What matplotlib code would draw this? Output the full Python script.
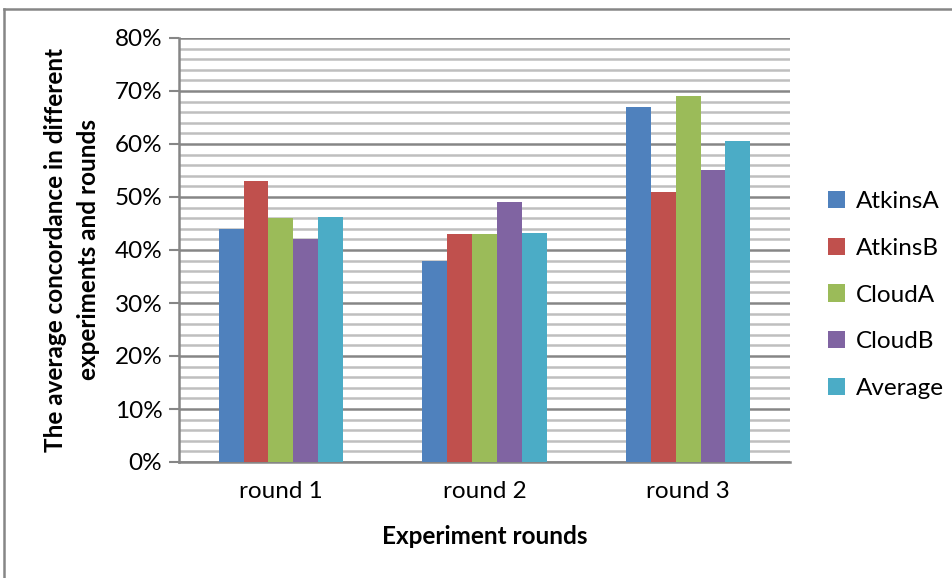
import matplotlib
matplotlib.use("Agg")
import matplotlib.pyplot as plt
from matplotlib.lines import Line2D
from matplotlib.patches import Patch
from matplotlib.ticker import MultipleLocator, FuncFormatter
import numpy as np

plt.rcParams['font.family'] = ['Lato', 'DejaVu Sans']

rounds = ["round 1", "round 2", "round 3"]
series_names = ["AtkinsA", "AtkinsB", "CloudA", "CloudB", "Average"]
atkins_a = [44, 38, 67]
atkins_b = [53, 43, 51]
cloud_a = [46, 43, 69]
cloud_b = [42, 49, 55]
average = [46.25, 43.25, 60.5]
colors = ["#4F81BD", "#C0504D", "#9BBB59", "#8064A2", "#4BACC6"]
ylabel_lines = ["The average concordance in different", "experiments and rounds"]

FS = 17.5
W, H = 952, 578
fig = plt.figure(figsize=(W / 100, H / 100), dpi=100)
ax = fig.add_axes([179 / W, 1 - 462 / H, (790 - 179) / W, (462 - 38) / H])

x = np.arange(len(rounds))
bw = 0.122
all_series = [atkins_a, atkins_b, cloud_a, cloud_b, average]
for i, (vals, c, name) in enumerate(zip(all_series, colors, series_names)):
    ax.bar(x + (i - 2) * bw, vals, width=bw, color=c, label=name, zorder=3,
           linewidth=0)

ax.set_xlim(-0.5, 2.5)
ax.set_ylim(0, 80)
ax.yaxis.set_major_locator(MultipleLocator(10))
ax.yaxis.set_minor_locator(MultipleLocator(2))
ax.yaxis.set_major_formatter(FuncFormatter(lambda v, p: f"{v:.0f}%"))
ax.grid(which="minor", axis="y", color="#BFBFBF", linewidth=1.8, zorder=0)
ax.grid(which="major", axis="y", color="#868686", linewidth=1.8, zorder=1)
ax.tick_params(axis="y", which="major", length=7, width=1.5, color="#868686",
               labelsize=FS, pad=5)
ax.tick_params(axis="y", which="minor", length=0)
ax.tick_params(axis="x", length=0, labelsize=FS, pad=14)
ax.set_xticks(x)
ax.set_xticklabels(rounds)

for s in ["top", "right"]:
    ax.spines[s].set_visible(False)
for s in ["left", "bottom"]:
    ax.spines[s].set_color("#868686")
    ax.spines[s].set_linewidth(1.8)

ax.set_xlabel("Experiment rounds", fontsize=FS, fontweight="bold", labelpad=16)

# two-line vertical axis title, each line centred on the plot area
ycen = 1 - 250 / H
for xpix, line in zip([56, 89], ylabel_lines):
    fig.text(xpix / W, ycen, line, rotation=90, ha="center", va="center",
             fontsize=FS, fontweight="bold")

handles = [Patch(facecolor=c, edgecolor="none") for c in colors]
fig.legend(handles, series_names, loc="center left",
           bbox_to_anchor=(818 / W, 1 - 295 / H), frameon=False, fontsize=FS,
           handlelength=0.7, handleheight=0.7, handletextpad=0.45,
           labelspacing=1.05, borderaxespad=0)

# chart frame
fig.add_artist(Line2D([4 / W, 1], [1 - 9 / H, 1 - 9 / H], color="#868686",
                      linewidth=1.8, transform=fig.transFigure))
fig.add_artist(Line2D([4 / W, 4 / W], [0, 1 - 9 / H], color="#868686",
                      linewidth=1.8, transform=fig.transFigure))

fig.savefig("out.png", dpi=100)
